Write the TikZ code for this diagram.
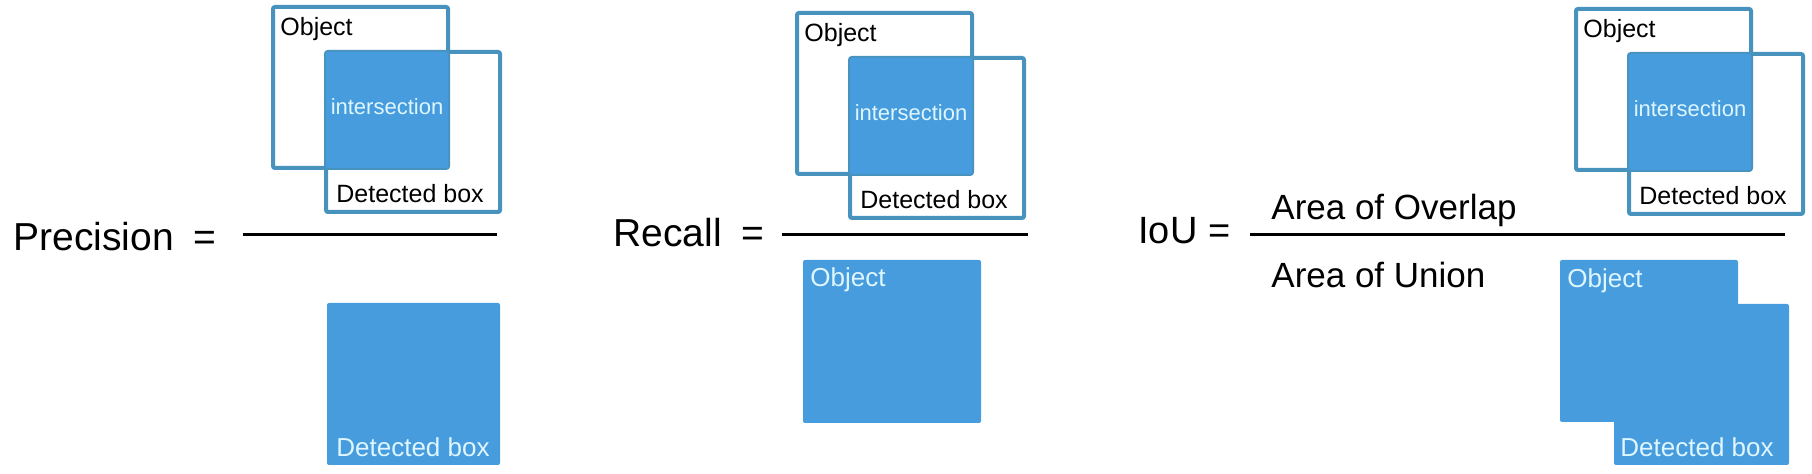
\documentclass[tikz,border=0pt]{standalone}
\usepackage{fontspec}
\setmainfont{Liberation Sans}
\usepackage{tikz}

\begin{document}
\begin{tikzpicture}[x=0.5pt, y=-0.5pt]
\definecolor{boxblue}{RGB}{71,156,221}
\definecolor{frameblue}{RGB}{72,146,190}
\definecolor{labelcyan}{RGB}{222,246,255}
\tikzset{
  frame box/.style={draw=frameblue, line width=2pt, rounded corners=1pt},
  fill box/.style={fill=boxblue, rounded corners=1pt},
  dark label/.style={inner sep=0pt, anchor=base west, font=\fontsize{12.5}{14}\selectfont},
  cut label/.style={inner sep=0pt, anchor=base, labelcyan, font=\fontsize{11}{13}\selectfont},
  fill label/.style={inner sep=0pt, anchor=base west, labelcyan, font=\fontsize{13}{15}\selectfont},
  big label/.style={inner sep=0pt, anchor=base west, font=\fontsize{19.5}{22}\selectfont},
  fraction bar/.style={line width=1.5pt}
}
\useasboundingbox (0,0) rectangle (1812,474);
% Top: object and detected box with their intersection
\foreach \sx/\sy/\nm in {273/7/prec, 797/13/rec, 1576/9/iou} {
  \begin{scope}[shift={(\sx,\sy)}]
    \draw[frame box] (0,0) rectangle (175,161);
    \draw[frame box] (53,45) rectangle (227,205);
    \fill[fill box] (53,45) rectangle (175,161);
    \node[dark label] (\nm obj) at (7,29) {Object};
    \node[cut label] (\nm cut) at (114,108) {intersection};
    \node[dark label] (\nm det) at (63,196) {Detected box};
  \end{scope}
}
% Precision
\node[big label] (precision) at (13,251) {Precision\hspace{0.5em}=};
\draw[fraction bar] (243,235) -- (497,235);
\fill[fill box] (327,303) rectangle (500,465);
\node[fill label] (precDetB) at (336,457) {Detected box};
% Recall
\node[big label] (recall) at (613,247) {Recall\hspace{0.5em}=};
\draw[fraction bar] (782,235) -- (1028,235);
\fill[fill box] (803,260) rectangle (981,423);
\node[fill label] (recObjB) at (810,287) {Object};
% IoU
\node[big label, font=\fontsize{19}{22}\selectfont] (iou) at (1138,244) {IoU =};
\draw[fraction bar] (1250,235) -- (1785,235);
\node[big label, font=\fontsize{17.5}{20}\selectfont] (overlap) at (1271,220) {Area of Overlap};
\node[big label, font=\fontsize{17.5}{20}\selectfont] (union) at (1271,288) {Area of Union};
\fill[fill box] (1560,260) rectangle (1738,422);
\fill[fill box] (1614,304) rectangle (1789,465);
\node[fill label] (iouObjB) at (1567,288) {Object};
\node[fill label] (iouDetB) at (1620,457) {Detected box};
\end{tikzpicture}
\end{document}
